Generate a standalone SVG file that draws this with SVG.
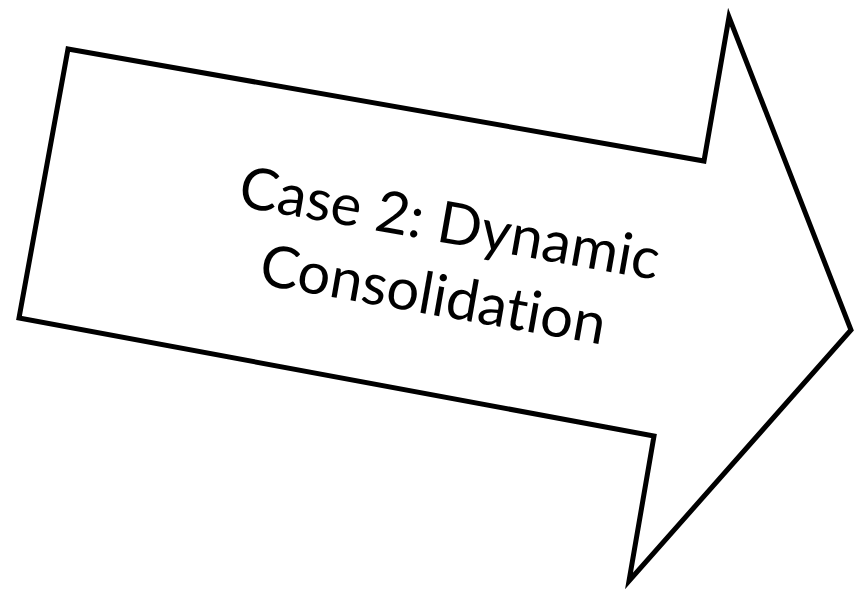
<svg xmlns="http://www.w3.org/2000/svg" width="856" height="591" viewBox="0 0 856 591">
<style>
.arrow{fill:#fff;stroke:#000;stroke-width:5;stroke-linejoin:miter;stroke-miterlimit:10}
.lbl{font-family:"Lato","Open Sans",sans-serif;font-size:58px;fill:#000;text-anchor:middle;font-variant-ligatures:none;font-feature-settings:"liga" 0}
</style>
<rect width="856" height="591" fill="#fff"/>
<g id="arrow-node">
<polygon class="arrow" points="68,49 704,161 729,17 851,330 629,581 654,436 19,318"/>
<g transform="translate(440,279) rotate(10)">
<text class="lbl" x="0" y="-36.6">Case 2: Dynamic</text>
<text class="lbl" x="-4" y="36.6">Consolidation</text>
</g>
</g>
<g id="connectors"/>
</svg>
